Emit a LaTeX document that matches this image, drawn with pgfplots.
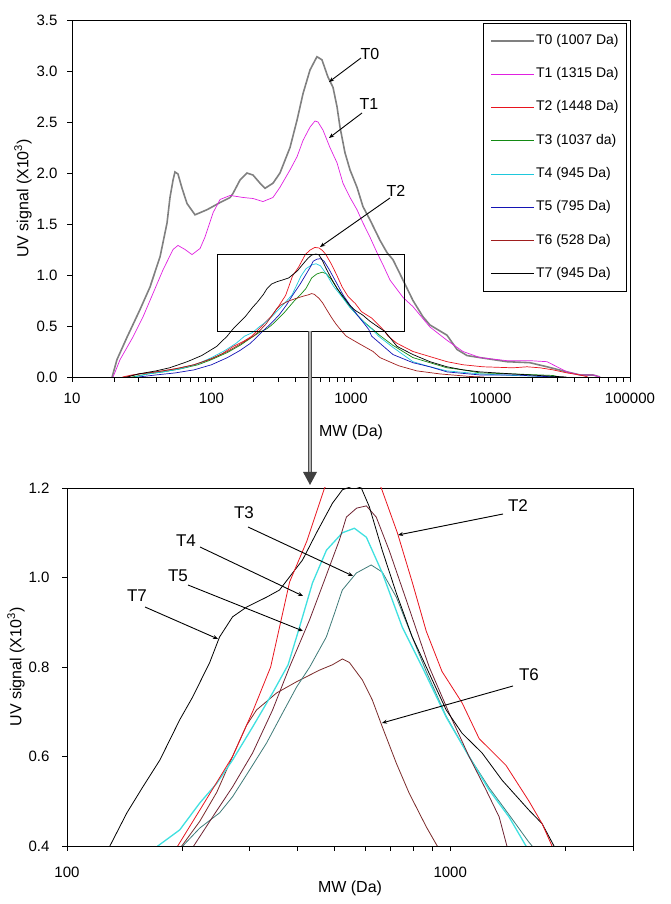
\documentclass[border=0pt]{standalone}
\usepackage{pgfplots}
\pgfplotsset{compat=1.18}
\usepackage{pgfplotstable}
\usepackage{fontspec}
\setmainfont{Liberation Sans}
\usetikzlibrary{arrows.meta}

\definecolor{cT0}{HTML}{808080}
\definecolor{cT1}{HTML}{E020E0}
\definecolor{cT2}{HTML}{E8141E}
\definecolor{cT3}{HTML}{138A13}
\definecolor{cT4}{HTML}{1EC8DC}
\definecolor{cT5}{HTML}{1414B4}
\definecolor{cT6}{HTML}{A01E1E}
\definecolor{cT7}{HTML}{000000}
\definecolor{bT3}{HTML}{3E7A78}
\definecolor{bT4}{HTML}{40E0E0}
\definecolor{bT5}{HTML}{6E2332}
\definecolor{bT6}{HTML}{7A2A2A}

\pgfplotstableread{
x y
19.4 0
21.0 0.17
24.8 0.39
30.7 0.66
36.2 0.88
42.8 1.18
48.0 1.51
50.4 1.76
53.0 1.93
54.7 2.01
57.5 1.99
61.5 1.85
66.8 1.70
76.2 1.59
92.9 1.64
115.1 1.71
136 1.76
142.6 1.80
160 1.93
179.5 2.00
198.3 1.98
222.8 1.90
242 1.85
275.9 1.90
309.7 2.00
365.5 2.25
410.6 2.52
453.3 2.78
508.3 3.01
570 3.14
619 3.11
684 2.94
743 2.84
794 2.65
834 2.45
905 2.20
984 2.03
1104 1.86
1219 1.67
1369 1.54
1614 1.34
1811 1.22
2000 1.15
2360 0.95
2781 0.75
3281 0.59
3681 0.51
4874 0.41
5754 0.27
6790 0.21
8410 0.19
13125 0.15
19190 0.14
25420 0.10
35340 0.05
43830 0.02
54300 0.02
61000 0
}\Tzero

\pgfplotstableread{
x y
19.7 0
22.1 0.17
27.3 0.39
32.3 0.59
38.1 0.82
44.9 1.05
53.0 1.25
57.5 1.29
64.6 1.25
72.5 1.20
82.8 1.26
89.7 1.37
102.6 1.61
115.1 1.74
136 1.78
168.3 1.76
198.3 1.75
233.9 1.72
275.9 1.76
309.7 1.86
365.5 2.03
410.6 2.16
453.3 2.32
508.3 2.45
552 2.51
580 2.50
630 2.42
706.5 2.25
794 2.10
876 1.90
984 1.76
1104 1.64
1219 1.51
1369 1.37
1535 1.22
1695 1.10
1905 0.95
2360 0.78
2781 0.69
3681 0.49
4874 0.36
6350 0.25
8410 0.19
13125 0.16
19190 0.16
25420 0.15
29980 0.10
35340 0.05
43830 0.02
54300 0.02
61000 0
}\Tone

\pgfplotstableread{
x y
23 0
27 0.02
35 0.04
45 0.06
60 0.09
75 0.12
97 0.17
120 0.23
143 0.30
170 0.35
194.5 0.40
222 0.48
270.4 0.60
305 0.70
340 0.80
381 0.99
422 1.08
470 1.20
510 1.245
550 1.27
590 1.265
625 1.24
661 1.20
728 1.10
796 0.99
866 0.88
952 0.79
1074 0.72
1190 0.64
1399 0.58
1606 0.50
1737 0.45
1844 0.40
2138 0.33
2780 0.25
3681 0.20
4874 0.15
6350 0.12
8835 0.10
14490 0.09
18270 0.10
22640 0.09
28050 0.07
35340 0.04
43830 0.02
50000 0
}\Ttwo

\pgfplotstableread{
x y
27 0
35 0.03
45 0.05
60 0.08
80 0.12
100 0.17
130 0.24
160 0.31
200.5 0.40
222 0.44
250.1 0.474
270.4 0.51
299.7 0.57
331.7 0.63
365.2 0.697
397.2 0.755
430 0.80
475 0.867
499 0.92
523 0.972
569 1.01
622 1.028
665 1.012
723.5 0.956
796 0.867
866 0.79
976 0.69
1120 0.60
1264 0.53
1424 0.47
1600 0.41
2000 0.31
2780 0.19
3681 0.14
4874 0.09
6350 0.07
8410 0.04
14490 0.03
22640 0.02
28000 0.015
31500 0
}\Tthree

\pgfplotstableread{
x y
28 0
35 0.03
45 0.05
60 0.08
80 0.13
100 0.19
125 0.26
150 0.33
172.6 0.40
196.9 0.436
222 0.496
245.9 0.54
270.4 0.592
305.1 0.666
344 0.742
377.6 0.805
404.4 0.889
437.2 0.988
475.4 1.061
523.4 1.10
562.3 1.11
604.3 1.09
665.2 1.01
749.9 0.889
845.3 0.80
976.3 0.688
1120 0.60
1264 0.525
1424 0.465
1577 0.40
2000 0.29
2780 0.15
3681 0.10
4874 0.06
8410 0.03
14490 0.015
25000 0.005
32000 0
}\Tfour

\pgfplotstableread{
x y
30 0
40 0.02
55 0.04
75 0.07
100 0.12
130 0.19
160 0.26
190 0.33
214.1 0.40
239.9 0.465
270.4 0.532
305.1 0.608
344 0.704
380.9 0.80
429.4 0.905
469.8 0.994
514 1.084
535.9 1.135
570 1.155
604.3 1.16
641.2 1.135
693.5 1.06
767.8 0.95
845.3 0.845
881.5 0.80
993.5 0.697
1120 0.60
1241 0.525
1342 0.465
1406 0.40
1614 0.33
2000 0.22
2780 0.14
3681 0.10
4874 0.05
8410 0.02
15490 0.02
20000 0.01
30000 0
}\Tfive

\pgfplotstableread{
x y
24 0
30 0.03
40 0.05
55 0.08
75 0.12
100 0.18
130 0.25
160 0.32
199.3 0.40
222 0.455
245.9 0.52
270.4 0.60
294.3 0.67
312.4 0.704
352.4 0.742
397.2 0.767
456 0.793
492.9 0.805
523.4 0.818
545.8 0.81
589.9 0.771
626.5 0.726
665.2 0.666
723.5 0.585
781.6 0.518
866 0.443
925 0.40
1100 0.34
1439 0.25
1614 0.19
2200 0.11
2960 0.06
4345 0.03
7130 0.005
9000 0
}\Tsix

\pgfplotstableread{
x y
25 0
30 0.03
40 0.06
50 0.09
67 0.15
85 0.21
109 0.30
129.4 0.40
143.3 0.474
157.7 0.532
174.7 0.592
196.9 0.682
212.8 0.733
235.7 0.81
250.1 0.867
270.4 0.912
294.3 0.934
331.7 0.956
358.6 0.972
387.8 1.01
411.7 1.039
447.9 1.10
492.9 1.166
523.4 1.196
560 1.205
586.2 1.20
615.2 1.158
665.2 1.06
723.5 0.965
796.2 0.867
866 0.80
976.3 0.704
1074 0.652
1211 0.608
1366 0.547
1606 0.48
1737 0.45
1866 0.40
2138 0.30
2780 0.22
3681 0.15
4874 0.10
6350 0.07
8410 0.05
14490 0.03
25420 0.01
35000 0
}\Tseven

\pgfplotsset{
  panelstyle/.style={
    scale only axis,
    axis line style={line width=0.8pt},
    tick style={black, line width=0.7pt},
    major tick length=5pt,
    minor tick length=5pt,
    tick align=outside,
    tick pos=left,
    ticklabel style={font=\fontsize{15}{18}\selectfont},
    /pgf/number format/assume math mode=true,
    /pgf/number format/1000 sep={},
    label style={font=\fontsize{16}{19}\selectfont},
    no markers,
  }
}

\begin{document}
\begin{tikzpicture}
\path[use as bounding box] (0pt,0pt) rectangle (670pt,904pt);

% ---------- top panel ----------
\begin{axis}[
  xmode=log,
  panelstyle,
  at={(72pt,527pt)}, anchor=south west,
  width=558pt, height=357pt,
  xmin=10, xmax=100000,
  ymin=0, ymax=3.5,
  ytick={0,0.5,1,1.5,2,2.5,3,3.5},
  yticklabel style={/pgf/number format/.cd, fixed, fixed zerofill, precision=1, /tikz/.cd, xshift=-6pt},
  xtick={10,100,1000,10000,100000},
  xticklabels={10,100,1000,10000,100000},
  minor xtick={20,30,40,50,60,70,80,90,200,300,400,500,600,700,800,900,2000,3000,4000,5000,6000,7000,8000,9000,20000,30000,40000,50000,60000,70000,80000,90000},
  xticklabel style={yshift=-8pt},
  xlabel={MW (Da)},
  ylabel={UV signal (X10\textsuperscript{3})},
  xlabel style={at={(axis description cs:0.5,-0.154)}, anchor=center},
  ylabel style={at={(axis description cs:-0.088,0.5)}, anchor=center},
  legend style={at={(1,1)}, anchor=north east, xshift=-3pt, yshift=-3pt,
    draw=black, line width=0.8pt, font=\fontsize{14}{16}\selectfont,
    inner xsep=7pt, inner ysep=10pt, row sep=18.3pt,
    nodes={inner sep=1pt, text height=10pt, text depth=3pt}},
  legend cell align=left,
  legend image code/.code={\draw[#1] (0pt,0pt) -- (43pt,0pt);},
]
\addlegendimage{draw=cT0, line width=1.8pt}
\addlegendentry{T0 (1007 Da)}
\addlegendimage{draw=cT1, line width=1pt}
\addlegendentry{T1 (1315 Da)}
\addlegendimage{draw=cT2, line width=1pt}
\addlegendentry{T2 (1448 Da)}
\addlegendimage{draw=cT3, line width=1pt}
\addlegendentry{T3 (1037 da)}
\addlegendimage{draw=cT4, line width=1pt}
\addlegendentry{T4 (945 Da)}
\addlegendimage{draw=cT5, line width=1pt}
\addlegendentry{T5 (795 Da)}
\addlegendimage{draw=cT6, line width=1pt}
\addlegendentry{T6 (528 Da)}
\addlegendimage{draw=cT7, line width=1pt}
\addlegendentry{T7 (945 Da)}
\addplot[cT0, line width=1.6pt, forget plot] table {\Tzero};
\addplot[cT1, line width=0.7pt, forget plot] table {\Tone};
\addplot[cT2, line width=0.7pt, forget plot] table {\Ttwo};
\addplot[cT3, line width=0.7pt, forget plot] table {\Tthree};
\addplot[cT4, line width=0.7pt, forget plot] table {\Tfour};
\addplot[cT5, line width=0.7pt, forget plot] table {\Tfive};
\addplot[cT6, line width=0.7pt, forget plot] table {\Tsix};
\addplot[cT7, line width=0.7pt, forget plot] table {\Tseven};
\draw[black, line width=0.8pt] (axis cs:111,0.45) rectangle (axis cs:2400,1.2);
\end{axis}

% ---------- bottom panel ----------
\begin{axis}[
  xmode=log,
  panelstyle,
  at={(67pt,58pt)}, anchor=south west,
  width=566pt, height=358pt,
  xmin=100, xmax=3000,
  ymin=0.4, ymax=1.2,
  ytick={0.4,0.6,0.8,1.0,1.2},
  yticklabel style={/pgf/number format/.cd, fixed, fixed zerofill, precision=1, /tikz/.cd, xshift=-9pt},
  xtick={100,1000},
  xticklabels={100,1000},
  minor xtick={200,300,400,500,600,700,800,900,2000,3000},
  xticklabel style={yshift=-12pt},
  xlabel={MW (Da)},
  ylabel={UV signal (X10\textsuperscript{3})},
  xlabel style={at={(axis description cs:0.5,-0.117)}, anchor=center},
  ylabel style={at={(axis description cs:-0.090,0.5)}, anchor=center},
]
\addplot[bT6, line width=0.8pt] table {\Tsix};
\addplot[bT3, line width=0.8pt] table {\Tthree};
\addplot[bT4, line width=1.3pt] table {\Tfour};
\addplot[bT5, line width=0.8pt] table {\Tfive};
\addplot[cT7, line width=0.8pt] table {\Tseven};
\addplot[cT2, line width=0.8pt] table {\Ttwo};
\end{axis}

% ---------- connecting arrow ----------
\draw[line width=0.8pt, draw=black!70, double=black!30, double distance=2.4pt] (310pt,573pt) -- (310pt,431pt);
\fill[black!75] (303pt,432pt) -- (317pt,432pt) -- (310pt,419pt) -- cycle;

% ---------- annotations ----------
\begin{scope}[every node/.style={font=\fontsize{16}{19}\selectfont}, >={Stealth[length=5pt,width=4pt]}]
\node at (370pt,850pt) {T0};
\draw[->, line width=0.9pt] (361pt,846pt) -- (329pt,822pt);
\node at (369pt,800pt) {T1};
\draw[->, line width=0.9pt] (362pt,791pt) -- (329pt,766pt);
\node at (396pt,713pt) {T2};
\draw[->, line width=0.9pt] (390pt,706pt) -- (320pt,657pt);
\end{scope}

\begin{scope}[every node/.style={font=\fontsize{17}{20}\selectfont}, >={Stealth[length=5pt,width=4pt]}]
\node at (244pt,391pt) {T3};
\draw[->, line width=0.9pt] (248pt,377pt) -- (353pt,328pt);
\node at (186pt,363pt) {T4};
\draw[->, line width=0.9pt] (200pt,357pt) -- (303pt,308pt);
\node at (178pt,328pt) {T5};
\draw[->, line width=0.9pt] (188pt,319pt) -- (303pt,273pt);
\node at (137pt,308pt) {T7};
\draw[->, line width=0.9pt] (145pt,297pt) -- (218pt,265pt);
\node at (518pt,398pt) {T2};
\draw[->, line width=0.9pt] (503pt,390pt) -- (398pt,369pt);
\node at (529pt,229pt) {T6};
\draw[->, line width=0.9pt] (513pt,218pt) -- (382pt,181pt);
\end{scope}
\end{tikzpicture}
\end{document}
